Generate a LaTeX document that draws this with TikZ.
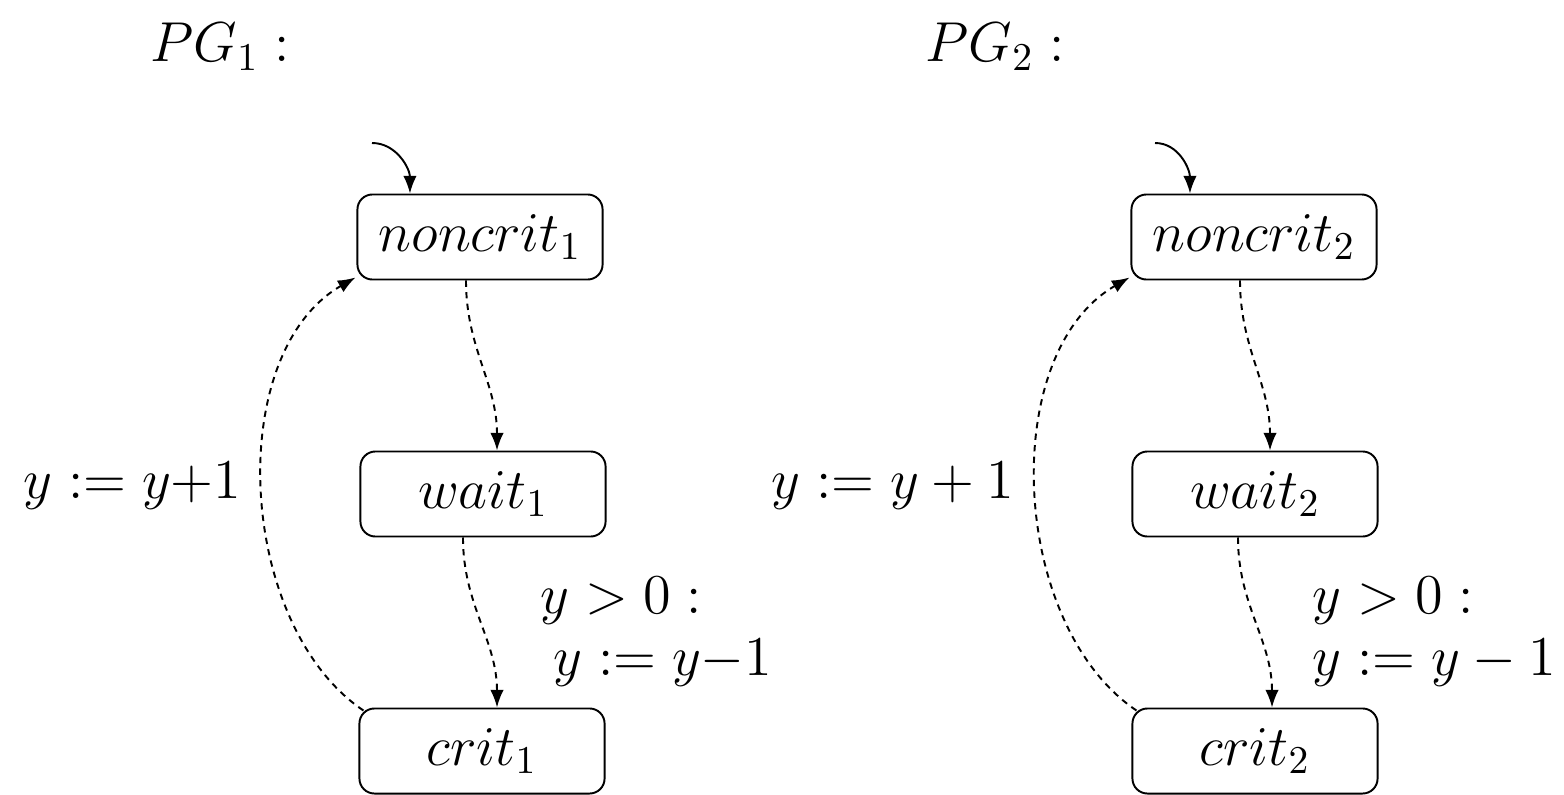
\documentclass[tikz,border=0pt]{standalone}
\usepackage{fix-cm}
\usetikzlibrary{arrows.meta}

\tikzset{
  state/.style={draw, line width=0.55pt, rounded corners=0.15cm,
    minimum width=2.45cm, minimum height=0.85cm, inner sep=0pt},
  arr/.style={line width=0.55pt, -{Latex[length=5pt,width=3.8pt]}},
  flow/.style={arr, dash pattern=on 1.8pt off 1.5pt},
  lbl/.style={anchor=base west, inner sep=0pt},
  lblr/.style={anchor=base east, inner sep=0pt}
}

\begin{document}
\begin{tikzpicture}[x=0.01cm, y=-0.01cm, font=\fontsize{16}{19}\selectfont]
\useasboundingbox (0,0) rectangle (1564,794);

% ---------------- first program graph ----------------
\node[lbl] (t1) at (150,62) {$PG_1 :$};

\node[state] (nc1) at (480,237) {$noncrit_1$};
\node[state] (w1)  at (483,494) {$wait_1$};
\node[state] (c1)  at (482,751) {$crit_1$};

\coordinate (i1) at (372,143);
\draw[arr] (i1) to[out=0,in=90] ([xshift=-0.70cm]nc1.north);

\draw[flow] ([xshift=-0.14cm]nc1.south) to[out=-90,in=90] ([xshift=0.14cm]w1.north);
\draw[flow] ([xshift=-0.20cm]w1.south) to[out=-90,in=90] ([xshift=0.15cm]c1.north);
\draw[flow] ([xshift=0.05cm,yshift=-0.03cm]c1.north west) to[out=146,in=-150,looseness=0.9]
  ([xshift=-0.01cm,yshift=0.03cm]nc1.south west);

\node[lblr] (a1) at (242,498) {$y := y{+}1$};
\node[lbl] (g1) at (540,613) {$y > 0 :$};
\node[lbl] (u1) at (553,675) {$y := y{-}1$};

% ---------------- second program graph ----------------
\node[lbl] (t2) at (925,62) {$PG_2 :$};

\node[state] (nc2) at (1254,237) {$noncrit_2$};
\node[state] (w2)  at (1255,494) {$wait_2$};
\node[state] (c2)  at (1255,751) {$crit_2$};

\coordinate (i2) at (1155,143);
\draw[arr] (i2) to[out=0,in=90] ([xshift=-0.64cm]nc2.north);

\draw[flow] ([xshift=-0.14cm]nc2.south) to[out=-90,in=90] ([xshift=0.15cm]w2.north);
\draw[flow] ([xshift=-0.17cm]w2.south) to[out=-90,in=90] ([xshift=0.17cm]c2.north);
\draw[flow] ([xshift=0.05cm,yshift=-0.03cm]c2.north west) to[out=146,in=-150,looseness=0.9]
  ([xshift=-0.01cm,yshift=0.03cm]nc2.south west);

\node[lblr] (a2) at (1015,498) {$y := y + 1$};
\node[lbl] (g2) at (1312,613) {$y > 0 :$};
\node[lbl] (u2) at (1312,675) {$y := y - 1$};
\end{tikzpicture}
\end{document}
